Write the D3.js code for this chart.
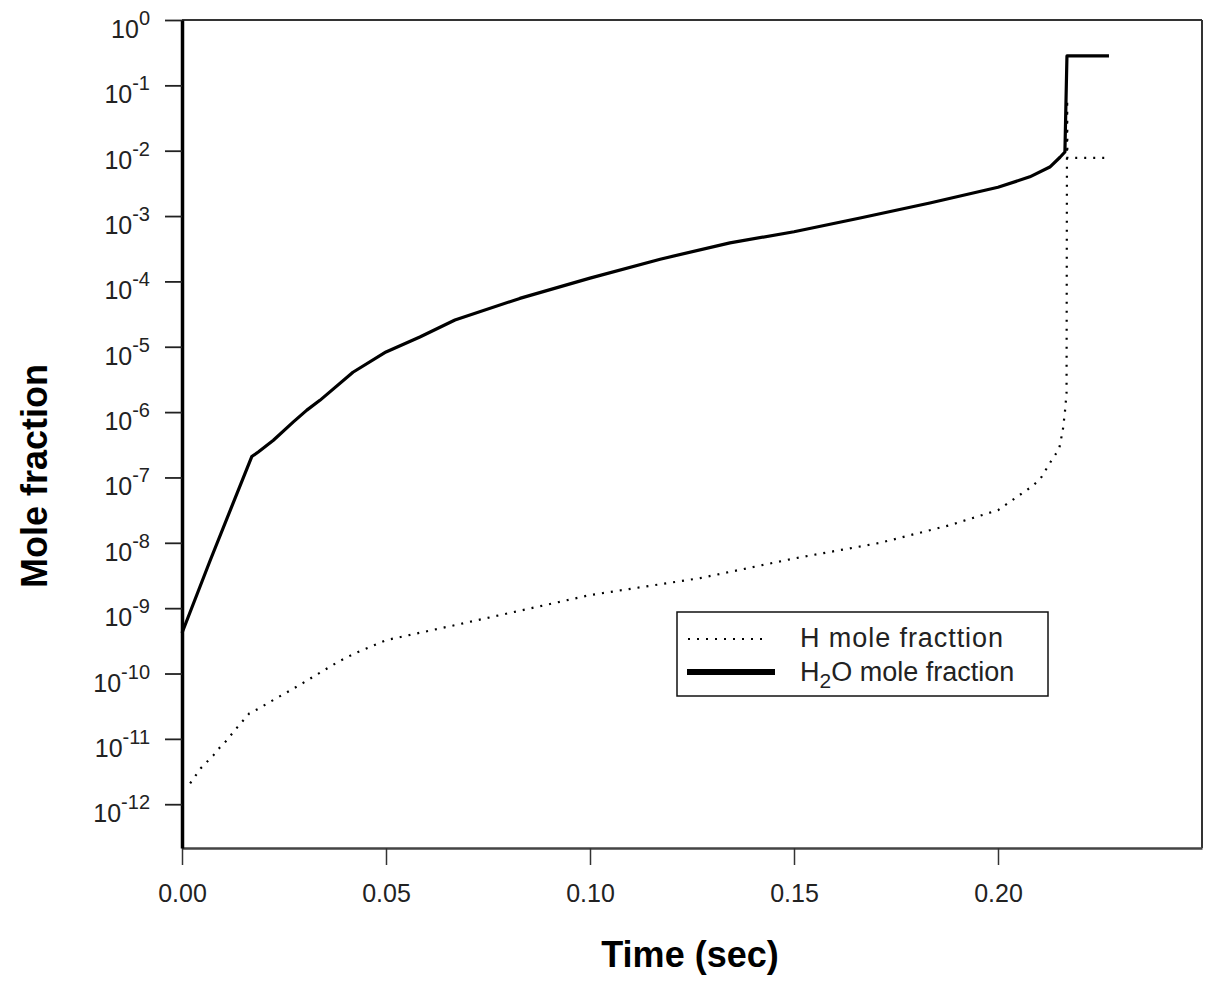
<!DOCTYPE html>
<html>
<head>
<meta charset="utf-8">
<script src="https://cdn.jsdelivr.net/npm/d3@7/dist/d3.min.js"></script>
<style>
  html, body { margin: 0; padding: 0; background: #fff; }
  svg { display: block; font-family: "Liberation Sans", Arial, sans-serif; }
</style>
</head>
<body>
<svg id="chart" width="1205" height="988"></svg>
<script>
// ---- data ----
const h2oTime = [0, 0.0069, 0.0171, 0.0187, 0.0224, 0.0273, 0.0306, 0.0338, 0.0419, 0.05, 0.0583, 0.0669, 0.0828, 0.10, 0.1172, 0.1343, 0.15, 0.1662, 0.1833, 0.20, 0.2078, 0.2127, 0.2152, 0.2164, 0.2169, 0.2272];
const h2oLog  = [-9.38, -8.27, -6.68, -6.61, -6.43, -6.15, -5.97, -5.82, -5.39, -5.08, -4.85, -4.59, -4.26, -3.95, -3.66, -3.41, -3.24, -3.03, -2.80, -2.56, -2.40, -2.25, -2.10, -2.02, -0.55, -0.55];

const hTime = [0.002, 0.0046, 0.0077, 0.0093, 0.0107, 0.0136, 0.0165, 0.0187, 0.0228, 0.0265, 0.0306, 0.0324, 0.0383, 0.0424, 0.05, 0.0669, 0.10, 0.127, 0.15, 0.1711, 0.1882, 0.20, 0.2078, 0.2103, 0.2127, 0.2150, 0.2159, 0.2164, 0.2168, 0.2169, 0.21695, 0.2170, 0.2267];
const hLog  = [-11.68, -11.45, -11.25, -11.13, -11.04, -10.82, -10.61, -10.54, -10.39, -10.26, -10.11, -10.04, -9.82, -9.69, -9.49, -9.26, -8.80, -8.54, -8.24, -8.0, -7.73, -7.5, -7.16, -7.03, -6.78, -6.56, -6.27, -6.0, -5.71, -2.11, -1.22, -2.11, -2.11];

const xTicks = [0, 0.05, 0.10, 0.15, 0.20];
const yTickExps = [0, -1, -2, -3, -4, -5, -6, -7, -8, -9, -10, -11, -12];

const seriesNames = ["H mole fracttion", "H2O mole fraction"];
const xTitle = "Time (sec)";
const yTitle = "Mole fraction";

// ---- layout ----
const mL = 182, mR = 1202, mT = 20, mB = 848;
const svg = d3.select("#chart");

const x = d3.scaleLinear().domain([0, 0.25]).range([mL, mR]);
const y = d3.scaleLog().domain([Math.pow(10, -12.67), 1]).range([mB, mT]);

// frame (top and right)
svg.append("line").attr("x1", mL).attr("x2", mR).attr("y1", mT).attr("y2", mT)
  .attr("stroke", "#333").attr("stroke-width", 2);
svg.append("line").attr("x1", mR).attr("x2", mR).attr("y1", mT).attr("y2", mB)
  .attr("stroke", "#333").attr("stroke-width", 2);

// x axis
const xAxis = svg.append("g").attr("transform", `translate(0,${mB})`)
  .call(d3.axisBottom(x).tickValues(xTicks).tickFormat(d3.format(".2f")).tickSize(17).tickSizeOuter(0).tickPadding(19));
xAxis.select(".domain").attr("stroke", "#444").attr("stroke-width", 2.5);
xAxis.selectAll(".tick line").attr("stroke", "#333").attr("stroke-width", 1.5);
xAxis.selectAll(".tick text").attr("font-size", 25).attr("fill", "#222")
  .attr("font-family", "'Liberation Sans', Arial, sans-serif");

// y axis
const yAxis = svg.append("g").attr("transform", `translate(${mL},0)`)
  .call(d3.axisLeft(y).tickValues(yTickExps.map(e => Math.pow(10, e))).tickFormat("").tickSize(17).tickSizeOuter(0));
yAxis.select(".domain").attr("stroke", "#000").attr("stroke-width", 3.5);
yAxis.selectAll(".tick line").attr("stroke", "#222").attr("stroke-width", 1.8);

// y tick labels with superscripts
const yl = svg.append("g").attr("font-size", 25).attr("fill", "#222");
yTickExps.forEach(e => {
  const yy = y(Math.pow(10, e));
  const t = yl.append("text").attr("x", 150).attr("y", yy + 18).attr("text-anchor", "end");
  t.append("tspan").text("10");
  t.append("tspan").attr("font-size", 20).attr("dy", -13).text(String(e));
});

// lines
const line = d3.line().x(d => x(d[0])).y(d => y(Math.pow(10, d[1])));
const h2oData = h2oTime.map((t, i) => [t, h2oLog[i]]);
const hData = hTime.map((t, i) => [t, hLog[i]]);

svg.append("path").datum(hData).attr("d", line)
  .attr("fill", "none").attr("stroke", "#000").attr("stroke-width", 2.2)
  .attr("stroke-dasharray", "2,7");
svg.append("path").datum(h2oData).attr("d", line)
  .attr("fill", "none").attr("stroke", "#000").attr("stroke-width", 3.2)
  .attr("stroke-linejoin", "round");

// legend
const lg = svg.append("g");
lg.append("rect").attr("x", 677).attr("y", 612).attr("width", 371).attr("height", 84)
  .attr("fill", "#fff").attr("stroke", "#111").attr("stroke-width", 1.5);
lg.append("line").attr("x1", 688).attr("x2", 767).attr("y1", 639).attr("y2", 639)
  .attr("stroke", "#000").attr("stroke-width", 2).attr("stroke-dasharray", "2,7");
lg.append("line").attr("x1", 687).attr("x2", 775).attr("y1", 672).attr("y2", 672)
  .attr("stroke", "#000").attr("stroke-width", 6);
lg.append("text").attr("x", 800).attr("y", 647).attr("font-size", 27).attr("fill", "#222")
  .attr("textLength", 203).attr("lengthAdjust", "spacing")
  .text(seriesNames[0]);
const t2 = lg.append("text").attr("x", 800).attr("y", 681).attr("font-size", 27).attr("fill", "#222");
t2.append("tspan").text("H");
t2.append("tspan").attr("font-size", 21).attr("dy", 7).text("2");
t2.append("tspan").attr("dy", -7).text("O mole fraction");

// axis titles
svg.append("text").attr("x", 690).attr("y", 967).attr("text-anchor", "middle")
  .attr("font-size", 36).attr("font-weight", "bold").attr("fill", "#000").text(xTitle);
svg.append("text").attr("transform", "translate(47,476) rotate(-90)").attr("text-anchor", "middle")
  .attr("font-size", 36).attr("font-weight", "bold").attr("fill", "#000").text(yTitle);
</script>
</body>
</html>
